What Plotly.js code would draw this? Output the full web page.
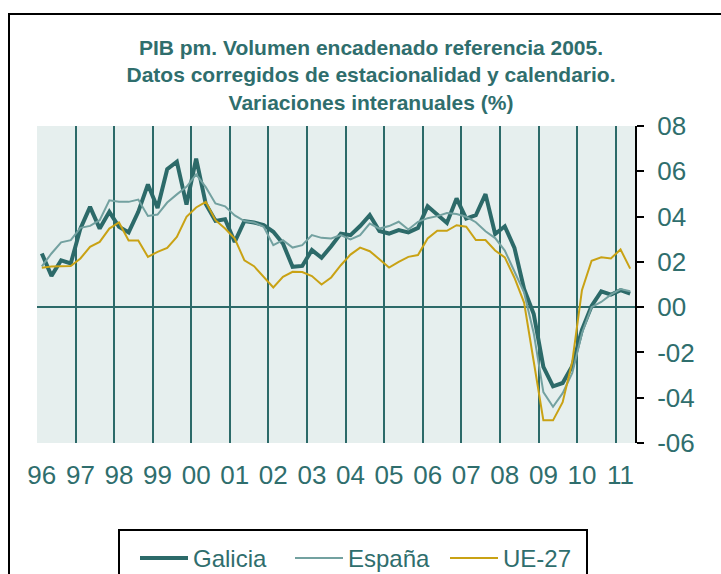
<!DOCTYPE html>
<html><head><meta charset="utf-8">
<script src="https://cdn.plot.ly/plotly-3.0.1.min.js"></script>
<style>html,body{margin:0;padding:0;background:#fff;overflow:hidden;} #chart{width:721px;height:574px;}</style>
</head><body><div id="chart"></div>
<script>
// Quarterly periods 1996 T1 .. 2011 T2
const anios = ['1996','1997','1998','1999','2000','2001','2002','2003','2004','2005','2006','2007','2008','2009','2010','2011'];
const trimestres = ['T1','T2','T3','T4'];
const periodos = [];
anios.forEach(a => trimestres.forEach(t => periodos.push(a + ' ' + t)));
periodos.length = 62;

const etiquetasAnio = ['96','97','98','99','00','01','02','03','04','05','06','07','08','09','10','11'];

const galicia = [2.37,1.38,2.07,1.93, 3.47,4.43,3.47,4.21, 3.55,3.30,4.21,5.42, 4.38,6.09,6.42,4.53,
  6.56,4.55,3.81,3.88, 2.88,3.80,3.74,3.62, 3.33,2.81,1.78,1.82, 2.52,2.18,2.69,3.25,
  3.18,3.58,4.06,3.36, 3.25,3.40,3.30,3.50, 4.46,4.10,3.72,4.80, 3.91,4.06,4.99,3.23,
  3.57,2.62,0.80,-0.30, -2.64,-3.50,-3.35,-2.60, -1.00,0.05,0.70,0.55, 0.75,0.60];

const espana = [1.80,2.37,2.86,2.96, 3.50,3.59,3.84,4.72, 4.65,4.65,4.75,4.03, 4.09,4.62,4.98,5.31,
  5.86,5.30,4.58,4.45, 4.05,3.80,3.74,3.55, 2.74,2.96,2.63,2.74, 3.18,3.06,3.03,3.18,
  2.99,3.18,3.69,3.47, 3.58,3.77,3.43,3.77, 3.93,4.02,4.16,4.11, 3.99,3.75,3.35,3.05,
  2.50,1.60,0.65,-1.15, -3.75,-4.40,-3.80,-2.90, -1.15,0.00,0.23,0.55, 0.80,0.70];

const ue27 = [1.74,1.80,1.81,1.82, 2.15,2.66,2.88,3.47, 3.74,2.94,2.94,2.22, 2.44,2.62,3.10,3.99,
  4.40,4.65,3.84,3.47, 3.03,2.07,1.81,1.34, 0.87,1.34,1.56,1.55, 1.37,1.00,1.31,1.85,
  2.32,2.63,2.47,2.12, 1.75,2.00,2.22,2.30, 3.03,3.37,3.37,3.62, 3.55,2.96,2.96,2.50,
  2.20,1.30,0.20,-2.40, -5.00,-5.00,-4.20,-2.40, 0.75,2.05,2.20,2.15, 2.55,1.70];

const yTicks = [-6,-4,-2,0,2,4,6,8];
const yTickText = ['-06','-04','-02','00','02','04','06','08'];

const teal = '#2c6a69';
const tealText = '#2f6e6d';
const font = 'Liberation Sans, Arial, sans-serif';

const xIdx = periodos.map((p, i) => i);
const yearTickVals = periodos.map((p, i) => p.endsWith('T1') ? i : null).filter(v => v !== null);

const traces = [
  {x: xIdx, y: galicia, name: 'Galicia', type: 'scatter', mode: 'lines', line: {color: teal, width: 4}, text: periodos},
  {x: xIdx, y: espana, name: 'España', type: 'scatter', mode: 'lines', line: {color: '#73a1a0', width: 2}, text: periodos},
  {x: xIdx, y: ue27, name: 'UE-27', type: 'scatter', mode: 'lines', line: {color: '#c9a214', width: 2}, text: periodos}
];

const L = 37, R = 86, T = 126, B = 131;
const pw = 721 - L - R, ph = 574 - T - B;
const px = v => (v - L) / pw;      // pixel x -> paper x
const py = v => (574 - B - v) / ph; // pixel y -> paper y

const layout = {
  width: 721, height: 574,
  margin: {l: L, r: R, t: T, b: B, pad: 0, autoexpand: false},
  paper_bgcolor: '#ffffff',
  plot_bgcolor: '#e6efee',
  showlegend: true,
  title: {
    text: 'PIB pm. Volumen encadenado referencia 2005.<br>Datos corregidos de estacionalidad y calendario.<br>Variaciones interanuales (%)',
    font: {family: font, size: 21, color: tealText, weight: 700},
    x: 371/721, xanchor: 'center', xref: 'container',
    y: 1 - 55/574, yanchor: 'top', yref: 'container'
  },
  xaxis: {
    range: [-0.5, 61.5],
    tickmode: 'array', tickvals: yearTickVals, ticktext: etiquetasAnio,
    ticks: '', showgrid: false, zeroline: false, showline: false,
    tickfont: {family: font, size: 26, color: tealText},
    ticklabelstandoff: 14,
    minor: {tick0: -0.5, dtick: 4, showgrid: true, gridcolor: teal, gridwidth: 2, ticks: ''},
    fixedrange: true
  },
  yaxis: {
    side: 'right', range: [-6, 8],
    tickmode: 'array', tickvals: yTicks, ticktext: yTickText,
    showgrid: false, zeroline: true, zerolinecolor: teal, zerolinewidth: 2.5,
    showline: true, linecolor: '#000', linewidth: 2,
    ticks: 'outside', ticklen: 7, tickwidth: 2, tickcolor: '#000',
    tickfont: {family: font, size: 26, color: tealText},
    ticklabelstandoff: 8,
    fixedrange: true
  },
  yaxis2: {
    overlaying: 'y', side: 'left', range: [-6, 8],
    showline: true, linecolor: teal, linewidth: 2,
    showgrid: false, zeroline: false, showticklabels: false, ticks: '',
    fixedrange: true
  },
  legend: {
    orientation: 'h',
    x: px(135), xanchor: 'left',
    y: py(536), yanchor: 'top',
    bgcolor: 'rgba(0,0,0,0)', borderwidth: 0,
    font: {family: font, size: 24, color: tealText},
    itemwidth: 48,
    entrywidth: 92
  },
  shapes: [
    {
      type: 'rect', xref: 'paper', yref: 'paper', layer: 'below',
      x0: px(9), x1: px(760), y0: py(620), y1: py(14),
      line: {color: '#000', width: 2}, fillcolor: 'rgba(0,0,0,0)'
    },
    {
      type: 'rect', xref: 'paper', yref: 'paper', layer: 'below',
      x0: px(119), x1: px(587), y0: py(600), y1: py(530),
      line: {color: '#000', width: 2}, fillcolor: '#ffffff'
    }
  ]
};

Plotly.newPlot('chart', traces, layout, {staticPlot: true, displayModeBar: false});
</script>
</body></html>
